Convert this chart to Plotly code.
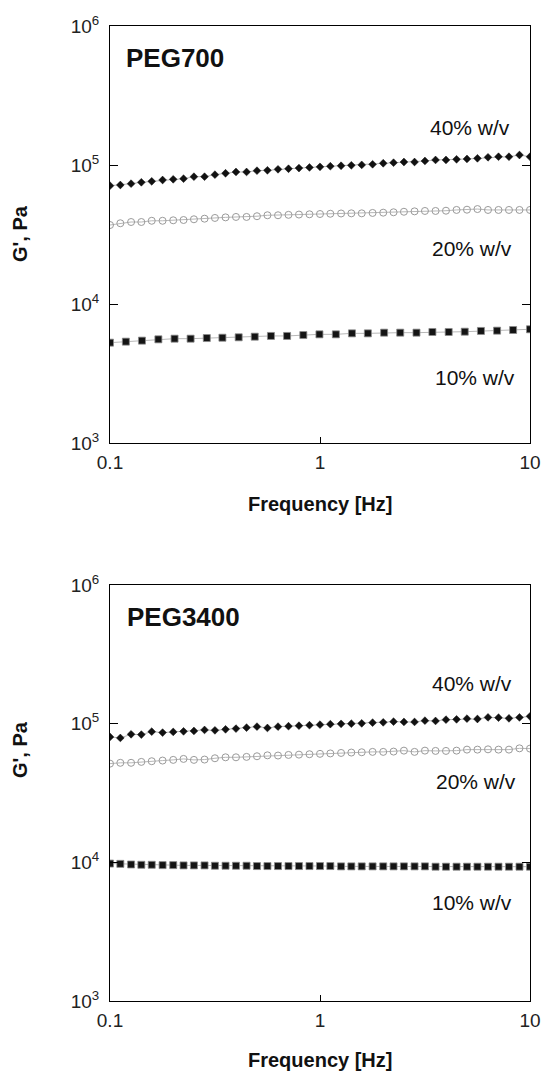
import plotly.graph_objects as go

# ---------------- data ----------------
freq41 = [0.1, 0.112, 0.126, 0.141, 0.158, 0.178, 0.2, 0.224, 0.251, 0.282,
          0.316, 0.355, 0.398, 0.447, 0.501, 0.562, 0.631, 0.708, 0.794, 0.891,
          1.0, 1.12, 1.26, 1.41, 1.58, 1.78, 2.0, 2.24, 2.51, 2.82,
          3.16, 3.55, 3.98, 4.47, 5.01, 5.62, 6.31, 7.08, 7.94, 8.91, 10.0]
freq27 = [0.1, 0.119, 0.142, 0.17, 0.203, 0.242, 0.289, 0.343, 0.41, 0.489,
          0.584, 0.697, 0.833, 0.994, 1.19, 1.42, 1.69, 2.02, 2.41, 2.88,
          3.43, 4.1, 4.89, 5.84, 6.97, 8.31, 10.0]

peg700_40 = [71000, 71800, 73400, 75100, 76300, 78000, 78900, 79700, 82400, 82400,
             85200, 87200, 89100, 89100, 91000, 91600, 93100, 94000, 95000, 96000,
             97000, 98000, 98800, 99500, 100200, 101200, 102900, 103900, 105100, 105100,
             106900, 108700, 108700, 109900, 110500, 111700, 113600, 114700, 114700, 118000,
             114700]
peg700_20 = [37000, 38100, 38900, 38900, 39700, 39700, 40000, 40200, 40700, 41100,
             41600, 42000, 42300, 42300, 42800, 43500, 43500, 43800, 44000, 44200,
             44400, 44600, 44800, 44900, 44900, 45200, 45400, 45700, 46100, 46400,
             46700, 46700, 46900, 47500, 47700, 48200, 47500, 47500, 47500, 47500,
             47500]
peg700_10 = [5270, 5360, 5450, 5570, 5630, 5630, 5690, 5720, 5760, 5820,
             5890, 5890, 5980, 6050, 6050, 6150, 6150, 6220, 6220, 6220,
             6290, 6290, 6320, 6400, 6430, 6500, 6580]

peg3400_40 = [80200, 78900, 83800, 83400, 87600, 86200, 87200, 88000, 88600, 90100,
              89500, 91000, 92100, 93600, 95200, 93100, 95200, 95900, 96700, 97500,
              98400, 99200, 99700, 100000, 100500, 101700, 102200, 103400, 102900, 102900,
              105100, 104600, 106900, 107400, 108700, 108100, 111000, 110500, 109200, 111000,
              112900]
peg3400_20 = [51500, 52200, 52200, 53000, 53600, 54200, 54800, 55700, 54800, 55100,
              56300, 57200, 57200, 57600, 58200, 59100, 58900, 59500, 59800, 60200,
              60600, 61000, 61500, 61900, 62200, 62600, 62600, 62900, 63900, 62600,
              63900, 63600, 63600, 63900, 65000, 65000, 65300, 65000, 65000, 66400,
              66100]
peg3400_10 = [9800, 9750, 9650, 9600, 9600, 9550, 9550, 9500, 9500, 9500,
              9450, 9450, 9450, 9450, 9400, 9400, 9400, 9400, 9400, 9400,
              9400, 9400, 9350, 9350, 9350, 9350, 9350, 9350, 9350, 9350,
              9350, 9300, 9300, 9300, 9300, 9300, 9300, 9300, 9300, 9300,
              9300]

x_tickvals = [0.1, 1, 10]
x_ticktext = ["0.1", "1", "10"]
y_tickvals = [1e3, 1e4, 1e5, 1e6]
y_ticktext = ["10<sup>3</sup>", "10<sup>4</sup>", "10<sup>5</sup>", "10<sup>6</sup>"]

panel_titles = ["PEG700", "PEG3400"]
conc_labels = ["40% w/v", "20% w/v", "10% w/v"]
x_title = "Frequency [Hz]"
y_title = "G', Pa"

# ---------------- figure ----------------
W, H = 542, 1072
FONT = "Liberation Sans"


def px(x):
    return x / W


def py(y):
    return 1 - y / H


fig = go.Figure()

line_col = "#b8b8b8"


def add_series(x, y, xa, ya, kind):
    if kind == "diamond":
        marker = dict(symbol="diamond", size=6, color="#111111",
                      line=dict(color="#111111", width=0.5))
    elif kind == "circle":
        marker = dict(symbol="circle-open", size=7, color="#9a9a9a",
                      line=dict(color="#9a9a9a", width=1))
    else:
        marker = dict(symbol="square", size=7, color="#141414",
                      line=dict(color="#8a8a8a", width=0.8))
    fig.add_trace(go.Scatter(x=x, y=y, xaxis=xa, yaxis=ya, mode="lines+markers",
                             line=dict(color=line_col, width=1), marker=marker,
                             showlegend=False, hoverinfo="skip"))


add_series(freq41, peg700_40, "x", "y", "diamond")
add_series(freq41, peg700_20, "x", "y", "circle")
add_series(freq27, peg700_10, "x", "y", "square")
add_series(freq41, peg3400_40, "x2", "y2", "diamond")
add_series(freq41, peg3400_20, "x2", "y2", "circle")
add_series(freq41, peg3400_10, "x2", "y2", "square")

ax_common = dict(type="log", showgrid=False, zeroline=False, showline=True,
                 linecolor="black", linewidth=1, ticks="inside", tickcolor="black",
                 tickwidth=1, automargin=False,
                 tickfont=dict(family=FONT, size=19, color="#222222"))

xdom = [px(110), px(530)]
fig.update_layout(
    width=W, height=H, margin=dict(l=0, r=0, t=0, b=0, pad=0, autoexpand=False),
    paper_bgcolor="white", plot_bgcolor="white",
    xaxis=dict(ax_common, domain=xdom, range=[-1, 1], anchor="y", mirror=True,
               tickvals=x_tickvals, ticktext=x_ticktext, ticklen=6,
               ticklabelstandoff=2),
    yaxis=dict(ax_common, domain=[py(443), py(26)], range=[3, 6], anchor="x",
               mirror="ticks", tickvals=y_tickvals, ticktext=y_ticktext, ticklen=8,
               ticklabelstandoff=6),
    xaxis2=dict(ax_common, domain=xdom, range=[-1, 1], anchor="y2", mirror=True,
                tickvals=x_tickvals, ticktext=x_ticktext, ticklen=6,
                ticklabelstandoff=2),
    yaxis2=dict(ax_common, domain=[py(1001), py(585)], range=[3, 6], anchor="x2",
                mirror="ticks", tickvals=y_tickvals, ticktext=y_ticktext, ticklen=8,
                ticklabelstandoff=6),
)

ann = []


def text(x, y, s, size, bold=False, xanchor="center", angle=0):
    ann.append(dict(x=px(x), y=py(y), xref="paper", yref="paper", showarrow=False,
                    text=("<b>%s</b>" % s) if bold else s, xanchor=xanchor,
                    yanchor="middle", textangle=angle,
                    font=dict(family=FONT, size=size, color="#111111")))


# panel titles
text(124, 58, panel_titles[0], 26, bold=True, xanchor="left")
text(125, 617, panel_titles[1], 26, bold=True, xanchor="left")

# concentration labels (top)
text(512, 127, conc_labels[0], 21, xanchor="right")
text(514, 248, conc_labels[1], 21, xanchor="right")
text(517, 377, conc_labels[2], 21, xanchor="right")
# concentration labels (bottom)
text(514, 683, conc_labels[0], 21, xanchor="right")
text(518, 781, conc_labels[1], 21, xanchor="right")
text(514, 902, conc_labels[2], 21, xanchor="right")

# axis titles
text(320, 504, x_title, 20, bold=True)
text(320, 1060, x_title, 20, bold=True)
text(20, 234, y_title, 20, bold=True, angle=-90)
text(20, 750, y_title, 20, bold=True, angle=-90)

fig.update_layout(annotations=ann)

fig.write_html("out.html")
